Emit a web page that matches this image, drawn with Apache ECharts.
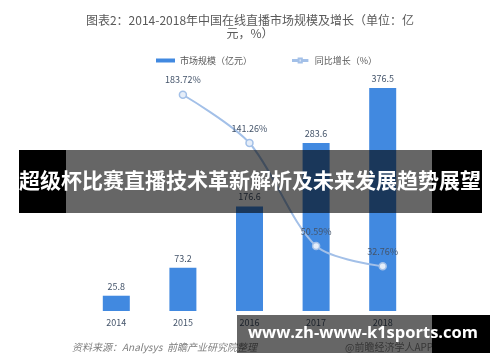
<!DOCTYPE html>
<html><head><meta charset="utf-8">
<script src="https://cdn.jsdelivr.net/npm/echarts@6/dist/echarts.min.js"></script>
<style>html,body{margin:0;padding:0;background:#fff}#c{width:500px;height:362px}</style>
</head><body><div id="c"></div>
<script>
const categories = ['2014','2015','2016','2017','2018'];
const marketSize = [25.8, 73.2, 176.6, 283.6, 376.5];
const growth = [null, 183.72, 141.26, 50.59, 32.76];
const titleLine1 = '图表2：2014-2018年中国在线直播市场规模及增长（单位：亿';
const titleLine2 = '元，%）';
const bannerText = '超级杯比赛直播技术革新解析及未来发展趋势展望';
const urlText = 'www.zh-www-k1sports.com';
const sourceText = '资料来源：Analysys  前瞻产业研究院整理';
const appText = '@前瞻经济学人APP';

const chart = echarts.init(document.getElementById('c'));
const lblColor = '#44546a';
const font = '"Noto Sans CJK SC", "Noto Sans", sans-serif';
const titleStyle = {fontSize: 12, fontWeight: 'normal', color: '#595959', fontFamily: font};
chart.setOption({
  animation: false,
  textStyle: {fontFamily: font},
  title: [
    {text: titleLine1, left: 'center', top: 9, textStyle: titleStyle},
    {text: titleLine2, left: 'center', top: 22, textStyle: titleStyle}
  ],
  legend: {
    top: 51, left: 151, itemGap: 40,
    textStyle: {fontSize: 9, color: '#595959', fontFamily: font},
    data: [
      {name: '市场规模（亿元）', icon: 'rect', itemStyle: {color: '#4189e0'}},
      {name: '同比增长（%）', icon: 'path://M0,4 L7,4 L7,2 L11,2 L11,4 L18,4 L18,5 L11,5 L11,7 L7,7 L7,5 L0,5 Z'}
    ],
    itemWidth: 19, itemHeight: 4
  },
  grid: {left: 83, right: 84, top: 80, bottom: 51},
  xAxis: {
    type: 'category', data: categories,
    axisLine: {show: false}, axisTick: {show: false},
    axisLabel: {color: lblColor, fontSize: 9, margin: 7}
  },
  yAxis: [
    {type: 'value', min: 0, max: 390, show: false, splitLine: {show: false}},
    {type: 'value', min: -6.5, max: 196.7, show: false, splitLine: {show: false}}
  ],
  series: [
    {
      name: '市场规模（亿元）', type: 'bar', data: marketSize, barWidth: 27,
      itemStyle: {color: '#4189e0'},
      label: {show: true, position: 'top', color: lblColor, fontSize: 9, distance: 5}
    },
    {
      name: '同比增长（%）', type: 'line', yAxisIndex: 1, data: growth,
      smooth: 0.3, symbol: 'circle', symbolSize: 7,
      lineStyle: {color: '#a3c0e8', width: 2},
      itemStyle: {color: '#e6eef9', borderColor: '#a3c0e8', borderWidth: 1.5},
      label: {show: true, position: 'top', color: lblColor, fontSize: 9, distance: 6,
        formatter: p => p.value == null ? '' : p.value.toFixed(2) + '%'}
    }
  ],
  graphic: [
    {type: 'rect', z: 100, shape: {x: 19, y: 150, width: 47, height: 63}, style: {fill: '#000'}},
    {type: 'rect', z: 100, shape: {x: 432, y: 150, width: 50, height: 63}, style: {fill: '#000'}},
    {type: 'rect', z: 100, shape: {x: 66, y: 150, width: 366, height: 63}, style: {fill: 'rgba(0,0,0,0.6)'}},
    {type: 'text', z: 99, left: 72, top: 342, style: {text: sourceText, fill: '#7f7f7f', font: 'italic 10px ' + font}},
    {type: 'text', z: 99, left: 345, top: 342, style: {text: appText, fill: '#8a8a8a', font: '10px ' + font}},
    {type: 'rect', z: 100, shape: {x: 432, y: 315, width: 58, height: 38}, style: {fill: '#000'}},
    {type: 'rect', z: 100, shape: {x: 237, y: 315, width: 195, height: 38}, style: {fill: 'rgba(0,0,0,0.6)'}},
    {type: 'text', z: 110, left: 'center', top: 170, style: {text: bannerText, fill: '#fff', font: 'bold 21px ' + font}},
    {type: 'text', z: 110, left: 248, top: 325, style: {text: urlText, fill: '#fff', font: 'bold 16.5px "Open Sans", sans-serif'}}
  ]
});
</script>
</body></html>
